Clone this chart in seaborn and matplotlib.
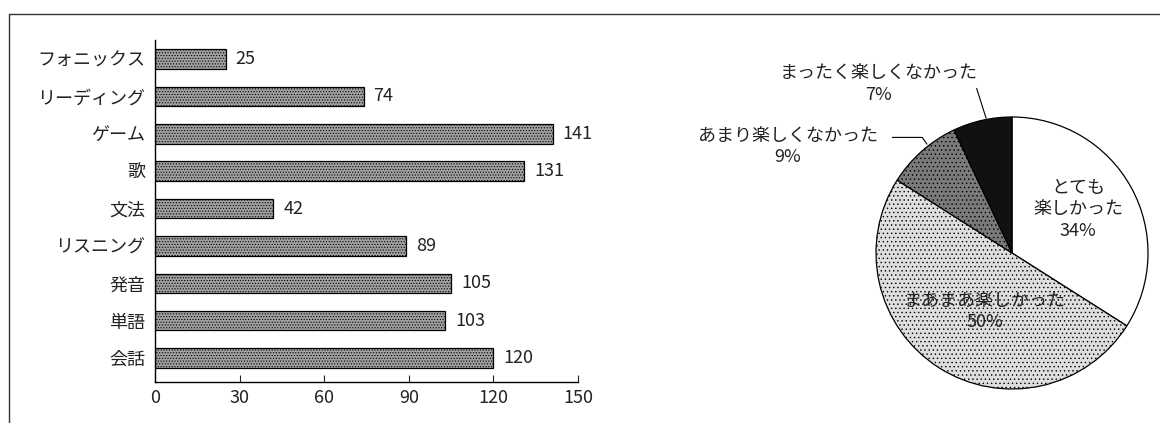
import matplotlib
matplotlib.use("Agg")
import matplotlib.pyplot as plt
from matplotlib.lines import Line2D
import seaborn as sns
import pandas as pd

# Activities and number of respondents who chose them
activities = ["フォニックス", "リーディング", "ゲーム", "歌", "文法",
              "リスニング", "発音", "単語", "会話"]
counts = [25, 74, 141, 131, 42, 89, 105, 103, 120]
x_ticks = [0, 30, 60, 90, 120, 150]

# Enjoyment of the lessons (percent)
enjoy_labels = ["とても\n楽しかった", "まあまあ楽しかった",
                "あまり楽しくなかった", "まったく楽しくなかった"]
enjoy_pct = [34, 50, 9, 7]

sns.set_theme(style="white")
plt.rcParams["font.family"] = ["Noto Sans CJK JP", "DejaVu Sans"]
plt.rcParams["hatch.color"] = "#4a4a4a"
plt.rcParams["hatch.linewidth"] = 0.5

W, H = 1160, 423
FS = 13
fig = plt.figure(figsize=(W / 100, H / 100), dpi=100)
fig.patch.set_facecolor("white")

# ---- horizontal bar chart ----
ax = fig.add_axes([155 / W, 41 / H, 423 / W, 342 / H])
df = pd.DataFrame({"activity": activities, "count": counts})
sns.barplot(data=df, x="count", y="activity", orient="h", ax=ax,
            color="#a0a0a0", width=0.52, edgecolor="black", linewidth=0.9,
            saturation=1)
for bar in ax.patches:
    bar.set_hatch("......")
for i, v in enumerate(counts):
    ax.text(v + 3.5, i, str(v), va="center", ha="left", fontsize=FS,
            color="#222222")
ax.set_xlim(0, 150)
ax.set_ylim(8.64, -0.51)
ax.set_xticks(x_ticks)
ax.set_xticklabels([str(t) for t in x_ticks], fontsize=FS, color="#222222")
ax.tick_params(axis="x", direction="in", length=5, width=0.8, pad=5,
               bottom=True, colors="#222222")
ax.tick_params(axis="y", length=0, pad=7, labelsize=FS, labelcolor="#222222")
ax.set_xlabel("")
ax.set_ylabel("")
for side in ("top", "right"):
    ax.spines[side].set_visible(False)
for side in ("left", "bottom"):
    ax.spines[side].set_color("black")
    ax.spines[side].set_linewidth(1.0)

# ---- pie chart ----
cx, cy, r = 1012, 253, 136
pax = fig.add_axes([(cx - r) / W, (H - cy - r) / H, 2 * r / W, 2 * r / H])
wedges, _ = pax.pie(enjoy_pct, startangle=90, counterclock=False,
                    colors=["white", "#dedede", "#7a7a7a", "#111111"],
                    wedgeprops=dict(edgecolor="black", linewidth=0.9))
wedges[1].set_hatch("....")
wedges[2].set_hatch("....")
pax.set_xlim(-1, 1)
pax.set_ylim(-1, 1)
pax.set_aspect("auto")

txt = dict(ha="center", va="center", fontsize=FS, color="#222222",
           linespacing=1.22, clip_on=False)
pax.text(0.485, 0.32, f"{enjoy_labels[0]}\n{enjoy_pct[0]}%", **txt)
pax.text(-0.20, -0.43, f"{enjoy_labels[1]}\n{enjoy_pct[1]}%", **txt)
pax.text(-1.65, 0.78, f"{enjoy_labels[2]}\n{enjoy_pct[2]}%", **txt)
pax.text(-0.98, 1.24, f"{enjoy_labels[3]}\n{enjoy_pct[3]}%", **txt)
pax.add_line(Line2D([-0.88, -0.66, -0.625], [0.85, 0.85, 0.80],
                    color="black", linewidth=0.8, clip_on=False))
pax.add_line(Line2D([-0.26, -0.19], [1.21, 0.99],
                    color="black", linewidth=0.8, clip_on=False))

# ---- page frame ----
fig.add_artist(Line2D([8.5 / W, 1], [1 - 14 / H, 1 - 14 / H],
                      color="#333333", linewidth=1.0))
fig.add_artist(Line2D([8.5 / W, 8.5 / W], [0, 1 - 14 / H],
                      color="#333333", linewidth=1.0))

fig.savefig("out.png", dpi=100, facecolor="white")
